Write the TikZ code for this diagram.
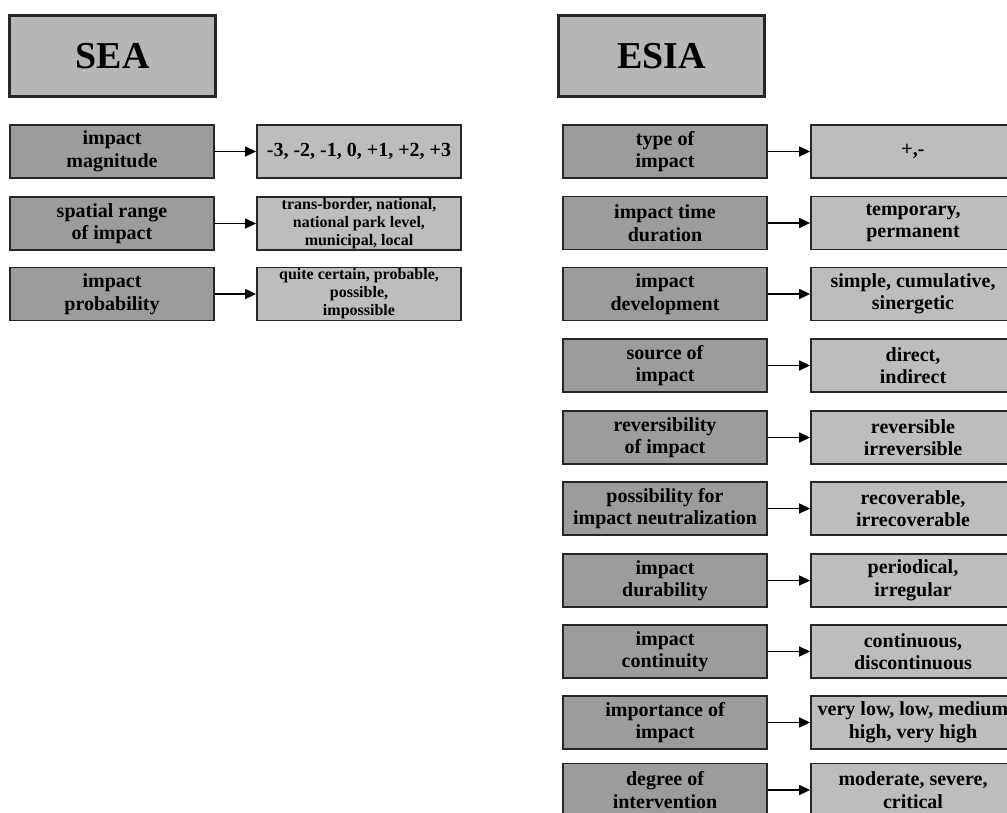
\documentclass[tikz,border=0pt]{standalone}
\usepackage{fontspec}
\setmainfont{Liberation Serif}
\usetikzlibrary{arrows.meta}
\definecolor{leftfill}{HTML}{9C9C9C}
\definecolor{rightfill}{HTML}{BDBDBD}
\definecolor{headfill}{HTML}{B6B6B6}
\definecolor{edge}{HTML}{262626}
\tikzset{
  head/.style={draw=edge, line width=3pt, fill=headfill, minimum width=206pt, minimum height=81pt,
    inner sep=0pt, font=\fontsize{38}{40}\selectfont\bfseries},
  lbox/.style={draw=edge, line width=1.8pt, fill=leftfill, minimum width=204pt, minimum height=53pt,
    inner sep=0pt, align=center, font=\fontsize{20}{22.5}\selectfont\bfseries},
  rbox/.style={draw=edge, line width=1.8pt, fill=rightfill, minimum width=204pt, minimum height=53pt,
    inner sep=0pt, align=center, font=\fontsize{20}{22.5}\selectfont\bfseries},
  small/.style={font=\fontsize{16}{18}\selectfont\bfseries},
  arr/.style={draw=black, line width=1.5pt, -{Triangle[length=11pt,width=10pt]}}
}
\begin{document}
\begin{tikzpicture}[x=1pt,y=-1pt]
\useasboundingbox (0,0) rectangle (1007,812);
\clip (0,0) rectangle (1007,812);
% headers
\node[head] (sea) at (112.5,56) {SEA};
\node[head] (esia) at (661.5,56) {ESIA};
% SEA rows
\node[lbox] (s1) at (112,151.5) {impact\\magnitude};
\node[rbox] (t1) at (359,151.5) {-3, -2, -1, 0, +1, +2, +3};
\node[lbox] (s2) at (112,223.5) {spatial range\\of impact};
\node[rbox,small] (t2) at (359,223.5) {trans-border, national,\\national park level,\\municipal, local};
\node[lbox] (s3) at (112,294) {impact\\probability};
\node[rbox,small] (t3) at (359,294) {quite certain, probable,\\possible,\\impossible};
\foreach \i in {1,2,3} {\draw[arr] (s\i.east) -- (t\i.west);}
% ESIA rows
\node[lbox] (e1) at (665,151.5) {type of\\impact};
\node[rbox] (f1) at (913,151.5) {+,-};
\node[lbox] (e2) at (665,223) {impact time\\duration};
\node[rbox] (f2) at (913,223) {temporary,\\permanent};
\node[lbox] (e3) at (665,294) {impact\\development};
\node[rbox] (f3) at (913,294) {simple, cumulative,\\sinergetic};
\node[lbox] (e4) at (665,365.5) {source of\\impact};
\node[rbox] (f4) at (913,365.5) {direct,\\indirect};
\node[lbox] (e5) at (665,437.5) {reversibility\\of impact};
\node[rbox] (f5) at (913,437.5) {reversible\\irreversible};
\node[lbox] (e6) at (665,508.5) {possibility for\\impact neutralization};
\node[rbox] (f6) at (913,508.5) {recoverable,\\irrecoverable};
\node[lbox] (e7) at (665,580.5) {impact\\durability};
\node[rbox] (f7) at (913,580.5) {periodical,\\irregular};
\node[lbox] (e8) at (665,651.5) {impact\\continuity};
\node[rbox] (f8) at (913,651.5) {continuous,\\discontinuous};
\node[lbox] (e9) at (665,722.5) {importance of\\impact};
\node[rbox] (f9) at (913,722.5) {very low, low, medium\\high, very high};
\node[lbox] (e10) at (665,790) {degree of\\intervention};
\node[rbox] (f10) at (913,790) {moderate, severe,\\critical};
\foreach \i in {1,...,10} {\draw[arr] (e\i.east) -- (f\i.west);}
\end{tikzpicture}
\end{document}
